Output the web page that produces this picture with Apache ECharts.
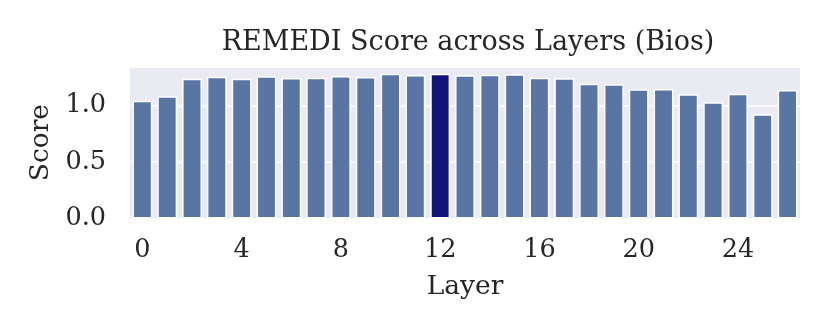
<!DOCTYPE html>
<html>
<head>
<meta charset="utf-8">
<script src="https://cdn.jsdelivr.net/npm/echarts@6/dist/echarts.min.js"></script>
<style>
html,body{margin:0;padding:0;background:#fff;}
#chart{width:830px;height:332px;}
</style>
</head>
<body>
<div id="chart"></div>
<script>
const layers = ["0","1","2","3","4","5","6","7","8","9","10","11","12","13","14","15","16","17","18","19","20","21","22","23","24","25","26"];
const scores = [1.04,1.08,1.235,1.253,1.235,1.256,1.241,1.244,1.259,1.25,1.279,1.268,1.279,1.265,1.27,1.274,1.244,1.238,1.19,1.185,1.141,1.144,1.097,1.026,1.102,0.92,1.135];
const highlightLayer = 12;
const yTicks = [0, 0.5, 1.0];
const yMax = 1.341;

const font = "DejaVu Serif";
const textColor = "#262626";

const chart = echarts.init(document.getElementById('chart'), null, {renderer:'canvas'});
chart.setOption({
  animation:false,
  backgroundColor:'#ffffff',
  title:{
    text:'REMEDI Score across Layers (Bios)',
    left: 463, textAlign:'center', top:24,
    textStyle:{fontFamily:font, fontSize:27, fontWeight:'normal', color:textColor}
  },
  grid:{left:130, right:30, top:66.7, bottom:113.5, show:true, backgroundColor:'#EAEAF2', borderWidth:0},
  xAxis:{
    type:'category', data:layers,
    name:'Layer', nameLocation:'middle', nameGap:55,
    nameTextStyle:{fontFamily:font, fontSize:26.5, color:textColor},
    axisLine:{show:false}, axisTick:{show:false},
    axisLabel:{interval:3, margin:19, fontFamily:font, fontSize:25.5, color:textColor},
    splitLine:{show:false}
  },
  yAxis:{
    type:'value', min:0, max:yMax, interval:0.5,
    name:'Score', nameLocation:'middle', nameGap:68,
    nameTextStyle:{fontFamily:font, fontSize:26.5, color:textColor, padding:[0,0,-8,0]},
    axisLine:{show:false}, axisTick:{show:false},
    axisLabel:{margin:24, fontFamily:font, fontSize:25.5, color:textColor,
      formatter:function(v){ return yTicks.some(t=>Math.abs(t-v)<1e-9) ? v.toFixed(1) : ''; }},
    splitLine:{show:true, lineStyle:{color:'#ffffff', width:1.5}}
  },
  series:[{
    type:'bar',
    barWidth:'80%',
    data:scores.map((v,i)=>({value:v, itemStyle:{color: i===highlightLayer ? '#121378' : '#5975A4'}})),
    itemStyle:{borderColor:'#ffffff', borderWidth:1.5}
  }]
});
</script>
</body>
</html>
